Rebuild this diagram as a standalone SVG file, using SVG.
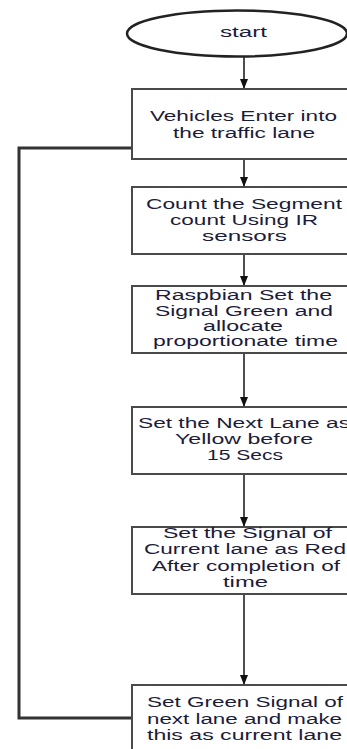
<svg xmlns="http://www.w3.org/2000/svg" width="347" height="749" viewBox="0 0 347 749">
<style>
.box{fill:#fff;stroke:#4a4a4a;stroke-width:2}
.term{fill:#fff;stroke:#222;stroke-width:2.5}
.t{font-family:"Liberation Sans",Arial,sans-serif;font-size:14px;fill:#1c1c3a}
.c{fill:none;stroke:#222;stroke-width:1.6}
.fb{fill:none;stroke:#333;stroke-width:3}
</style>
<defs>
<marker id="ah" markerWidth="10" markerHeight="8" refX="10" refY="4" orient="auto" markerUnits="userSpaceOnUse">
<path d="M0,0 L10,4 L0,8 Z" fill="#111"/>
</marker>
</defs>
<rect width="347" height="749" fill="#fff"/>
<g id="connectors">
<line class="c" x1="244" y1="56" x2="244" y2="89" marker-end="url(#ah)"/>
<line class="c" x1="244" y1="159" x2="244" y2="187" marker-end="url(#ah)"/>
<line class="c" x1="244" y1="254" x2="244" y2="286" marker-end="url(#ah)"/>
<line class="c" x1="244" y1="353" x2="244" y2="407" marker-end="url(#ah)"/>
<line class="c" x1="244" y1="474" x2="244" y2="527" marker-end="url(#ah)"/>
<line class="c" x1="244" y1="594" x2="244" y2="685" marker-end="url(#ah)"/>
<polyline class="fb" points="132,718 19,718 19,148 132,148"/>
</g>
<g id="start">
<ellipse class="term" cx="237" cy="33.5" rx="110" ry="23"/>
<text class="t" x="243.5" y="37" text-anchor="middle" textLength="47" lengthAdjust="spacingAndGlyphs">start</text>
</g>
<g id="n1">
<rect class="box" x="132" y="89" width="230" height="70"/>
<text class="t" x="243.5" y="121" text-anchor="middle" textLength="187" lengthAdjust="spacingAndGlyphs">Vehicles Enter into</text>
<text class="t" x="244" y="138" text-anchor="middle" textLength="142" lengthAdjust="spacingAndGlyphs">the traffic lane</text>
</g>
<g id="n2">
<rect class="box" x="132" y="187" width="230" height="67"/>
<text class="t" x="244" y="209" text-anchor="middle" textLength="196" lengthAdjust="spacingAndGlyphs">Count the Segment</text>
<text class="t" x="244" y="225" text-anchor="middle" textLength="148" lengthAdjust="spacingAndGlyphs">count Using IR</text>
<text class="t" x="244.5" y="241" text-anchor="middle" textLength="85" lengthAdjust="spacingAndGlyphs">sensors</text>
</g>
<g id="n3">
<rect class="box" x="132" y="286" width="230" height="67"/>
<text class="t" x="243.5" y="300" text-anchor="middle" textLength="177" lengthAdjust="spacingAndGlyphs">Raspbian Set the</text>
<text class="t" x="244" y="316" text-anchor="middle" textLength="178" lengthAdjust="spacingAndGlyphs">Signal Green and</text>
<text class="t" x="243" y="331" text-anchor="middle" textLength="80" lengthAdjust="spacingAndGlyphs">allocate</text>
<text class="t" x="245.5" y="346" text-anchor="middle" textLength="185" lengthAdjust="spacingAndGlyphs">proportionate time</text>
</g>
<g id="n4">
<rect class="box" x="132" y="407" width="230" height="67"/>
<text class="t" x="244" y="428" text-anchor="middle" textLength="212" lengthAdjust="spacingAndGlyphs">Set the Next Lane as</text>
<text class="t" x="244" y="444" text-anchor="middle" textLength="138" lengthAdjust="spacingAndGlyphs">Yellow before</text>
<text class="t" x="245" y="460" text-anchor="middle" textLength="76" lengthAdjust="spacingAndGlyphs">15 Secs</text>
</g>
<g id="n5">
<rect class="box" x="132" y="527" width="230" height="67"/>
<text class="t" x="247.5" y="538" text-anchor="middle" textLength="169" lengthAdjust="spacingAndGlyphs">Set the Signal of</text>
<text class="t" x="245" y="554" text-anchor="middle" textLength="202" lengthAdjust="spacingAndGlyphs">Current lane as Red</text>
<text class="t" x="246" y="571" text-anchor="middle" textLength="188" lengthAdjust="spacingAndGlyphs">After completion of</text>
<text class="t" x="245.5" y="587" text-anchor="middle" textLength="45" lengthAdjust="spacingAndGlyphs">time</text>
</g>
<g id="n6">
<rect class="box" x="132" y="685" width="230" height="70"/>
<text class="t" x="245" y="707" text-anchor="middle" textLength="196" lengthAdjust="spacingAndGlyphs">Set Green Signal of</text>
<text class="t" x="244.5" y="724" text-anchor="middle" textLength="195" lengthAdjust="spacingAndGlyphs">next lane and make</text>
<text class="t" x="244.5" y="740" text-anchor="middle" textLength="195" lengthAdjust="spacingAndGlyphs">this as current lane</text>
</g>
</svg>
